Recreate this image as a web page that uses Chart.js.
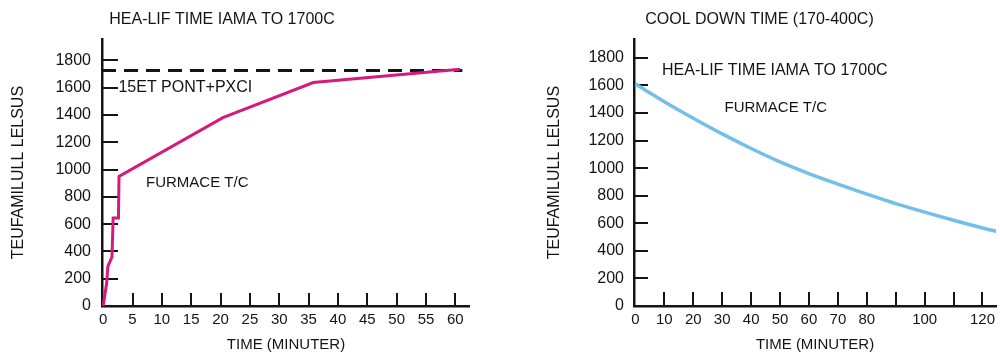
<!DOCTYPE html>
<html>
<head>
<meta charset="utf-8">
<script src="https://cdn.jsdelivr.net/npm/chart.js@4.4.1/dist/chart.umd.min.js"></script>
<style>
  html, body { margin: 0; padding: 0; background: #fff; overflow: hidden; width: 1000px; height: 355px; position: relative; }
  .box { position: absolute; top: 0; height: 355px; }
  #heatBox { left: -26px; width: 496px; }
  #coolBox { left: 519px; width: 481px; }
</style>
</head>
<body>
<div class="box" id="heatBox"><canvas id="heatChart"></canvas></div>
<div class="box" id="coolBox"><canvas id="coolChart"></canvas></div>
<script>
// ── data ──────────────────────────────────────────────────────────────────
const heatTime  = [0, 0.6, 0.8, 1.5, 1.7, 2.6, 2.7, 20.4, 35.8, 60.8];
const heatTemp  = [0, 170, 290, 360, 645, 645, 950, 1380, 1637, 1735];
const setTime   = [-0.2, 61.2];
const setTemp   = [1725, 1725];
const heatXTicks = [0, 5, 10, 15, 20, 25, 30, 35, 40, 45, 50, 55, 60];
const tempTicks  = [0, 200, 400, 600, 800, 1000, 1200, 1400, 1600, 1800];

const coolTime  = [0, 10, 20, 30, 40, 50, 60, 70, 80, 90, 100, 110, 120, 126];
const coolTemp  = [1610, 1482, 1362, 1248, 1142, 1045, 960, 884, 812, 743, 681, 622, 566, 535];
const coolXTicks  = [0, 10, 20, 30, 40, 50, 60, 70, 80, 90, 100, 110, 120];
const coolXLabels = ['0', '10', '20', '30', '40', '50', '60', '70', '80', '', '100', '', '120'];

const heatNotes  = ['15ET PONT+PXCI', 'FURMACE T/C'];
const heatNoteX  = [2.6, 7.3];
const heatNoteY  = [1603, 904];
const coolNotes  = ['HEA-LIF TIME IAMA TO 1700C', 'FURMACE T/C'];
const coolNoteX  = [9.2, 30.8];
const coolNoteY  = [1708, 1439];

const INK  = '#141414';
const FONT = "'Liberation Sans', Arial, sans-serif";

// ticks drawn inward from the axes, as in the source figure
const innerTicks = {
  id: 'innerTicks',
  beforeDatasetsDraw(chart, args, o) {
    const { ctx, chartArea: a, scales: { x, y } } = chart;
    ctx.save();
    ctx.strokeStyle = INK; ctx.lineWidth = 2;
    ctx.beginPath();
    for (const t of x.ticks) {
      if (t.value <= x.min + 0.5) continue;
      const px = Math.round(x.getPixelForValue(t.value));
      ctx.moveTo(px, a.bottom); ctx.lineTo(px, a.bottom - o.xLen);
    }
    for (const t of y.ticks) {
      if (t.value === 0) continue;
      const py = Math.round(y.getPixelForValue(t.value));
      ctx.moveTo(a.left, py); ctx.lineTo(a.left + o.yLen, py);
    }
    ctx.stroke();
    ctx.restore();
  }
};

// text notes placed in data coordinates
const notes = {
  id: 'notes',
  afterDatasetsDraw(chart, args, o) {
    const { ctx, scales: { x, y } } = chart;
    ctx.save();
    ctx.fillStyle = INK; ctx.textAlign = 'left'; ctx.textBaseline = 'middle';
    o.texts.forEach((txt, i) => {
      ctx.font = `${o.sizes[i]}px ${FONT}`;
      ctx.fillText(txt, x.getPixelForValue(o.xs[i]), y.getPixelForValue(o.ys[i]));
    });
    ctx.restore();
  }
};

function axisX(min, max, ticks, labels) {
  return {
    type: 'linear', min, max,
    afterBuildTicks: s => { s.ticks = ticks.map(v => ({ value: v })); },
    afterFit: s => { s.height = 49; },
    grid: { drawOnChartArea: false, drawTicks: false },
    border: { color: INK, width: 2.5 },
    ticks: { color: INK, font: { family: FONT, size: 15 }, padding: 5, autoSkip: false, maxRotation: 0,
             callback: (v, i) => labels ? labels[i] : String(v) },
    title: { display: true, text: 'TIME (MINUTER)', color: INK, font: { family: FONT, size: 15 },
             padding: { top: 7, bottom: 1 } }
  };
}

function axisY(max, width, titleTop, pad) {
  return {
    type: 'linear', min: 0, max,
    afterBuildTicks: s => { s.ticks = tempTicks.map(v => ({ value: v })); },
    afterFit: s => { s.width = width; },
    grid: { drawOnChartArea: false, drawTicks: false },
    border: { color: INK, width: 2.5 },
    ticks: { color: INK, font: { family: FONT, size: 16 }, padding: pad, callback: v => String(v) },
    title: { display: true, text: 'TEUFAMILULL LELSUS', color: INK, font: { family: FONT, size: 16 },
             padding: { top: titleTop, bottom: 0 } }
  };
}

new Chart(document.getElementById('heatChart'), {
  type: 'line',
  data: {
    datasets: [
      { data: heatTime.map((t, i) => ({ x: t, y: heatTemp[i] })), borderColor: '#d41a7c', borderWidth: 3,
        pointRadius: 0, tension: 0, order: 1 },
      { data: setTime.map((t, i) => ({ x: t, y: setTemp[i] })), borderColor: INK, borderWidth: 3,
        borderDash: [14, 8], pointRadius: 0, order: 2 }
    ]
  },
  options: {
    responsive: true, maintainAspectRatio: false, animation: false,
    layout: { padding: { left: 0, right: 0, top: 0, bottom: 0 } },
    plugins: {
      legend: { display: false }, tooltip: { enabled: false },
      title: { display: true, text: 'HEA-LIF TIME IAMA TO 1700C', color: INK,
               font: { family: FONT, size: 16, weight: 'normal' }, padding: { top: 10, bottom: 10 } },
      innerTicks: { xLen: 13, yLen: 16 },
      notes: { texts: heatNotes, xs: heatNoteX, ys: heatNoteY, sizes: [16, 15] }
    },
    scales: { x: axisX(-0.2, 62.5, heatXTicks, null), y: axisY(1955, 128, 35, 11) }
  },
  plugins: [innerTicks, notes]
});

new Chart(document.getElementById('coolChart'), {
  type: 'line',
  data: {
    datasets: [
      { data: coolTime.map((t, i) => ({ x: t, y: coolTemp[i] })), borderColor: '#72c0e8', borderWidth: 3.5,
        pointRadius: 0, cubicInterpolationMode: 'monotone' }
    ]
  },
  options: {
    responsive: true, maintainAspectRatio: false, animation: false,
    layout: { padding: { left: 0, right: 0, top: 0, bottom: 0 } },
    plugins: {
      legend: { display: false }, tooltip: { enabled: false },
      title: { display: true, text: 'COOL DOWN TIME (170-400C)', color: INK,
               font: { family: FONT, size: 16, weight: 'normal' }, padding: { top: 10, bottom: 10 } },
      innerTicks: { xLen: 14, yLen: 14 },
      notes: { texts: coolNotes, xs: coolNoteX, ys: coolNoteY, sizes: [16, 15] }
    },
    scales: { x: axisX(-0.5, 124.7, coolXTicks, coolXLabels), y: axisY(1935, 115, 26, 10) }
  },
  plugins: [innerTicks, notes]
});
</script>
</body>
</html>
